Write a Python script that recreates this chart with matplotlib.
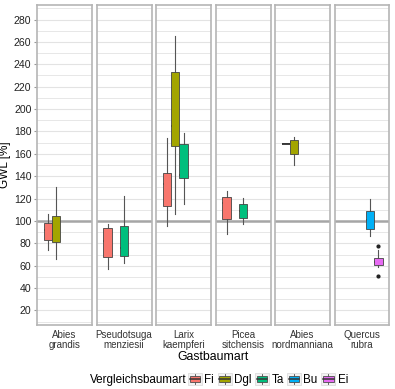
import matplotlib
matplotlib.use('Agg')
import matplotlib.pyplot as plt
from matplotlib.patches import Rectangle, Patch
from matplotlib.lines import Line2D
from matplotlib.legend_handler import HandlerBase

plt.rcParams['font.family'] = ['Liberation Sans', 'DejaVu Sans']

# --- Data ---
species = ['Abies\ngrandis', 'Pseudotsuga\nmenziesii', 'Larix\nkaempferi',
           'Picea\nsitchensis', 'Abies\nnordmanniana', 'Quercus\nrubra']
groups = ['Fi', 'Dgl', 'Ta', 'Bu', 'Ei']
colors = ['#F8766D', '#A3A500', '#00BF7D', '#00B0F6', '#E76BF3']

# whislo, q1, median, q3, whishi per species and group
abies_grandis = {'Fi': [73.6, 83.2, 91.9, 98.2, 106.5],
                 'Dgl': [66.2, 80.8, 87.1, 104.1, 130.5]}
pseudotsuga = {'Fi': [56.9, 67.7, 82.3, 93.7, 97.6],
               'Ta': [62.8, 68.9, 75.8, 95.8, 122.7]}
larix = {'Fi': [95.8, 113.1, 132.9, 143.1, 174.5],
         'Dgl': [105.9, 166.7, 184.6, 233.1, 265.7],
         'Ta': [114.9, 138.0, 141.3, 169.1, 179.0]}
picea = {'Fi': [88.6, 101.4, 116.2, 121.5, 126.6],
         'Ta': [97.3, 102.7, 109.2, 115.3, 120.6]}
abies_nord = {'Fi': [168.5, 168.5, 168.5, 168.5, 168.5],
              'Dgl': [149.9, 159.5, 170.3, 172.1, 175.4]}
quercus = {'Bu': [86.2, 92.8, 100.5, 109.2, 120.0],
           'Ei': [59.0, 60.8, 63.7, 66.8, 74.2]}
panels = [abies_grandis, pseudotsuga, larix, picea, abies_nord, quercus]
outliers = {(5, 'Ei'): [77.2, 51.2]}

# --- Layout ---
W, H = 395, 389
fig = plt.figure(figsize=(W / 100, H / 100), dpi=100)
lefts = [37, 96.5, 156, 215.5, 275, 334.5]
pw = 55
bottom, top = 325, 5

dodge = 0.18
grid_c = '#E3E3E3'
for i, (name, data) in enumerate(zip(species, panels)):
    ax = fig.add_axes([lefts[i] / W, 1 - bottom / H, pw / W, (bottom - top) / H])
    ax.set_xlim(0.4, 1.6)
    ax.set_ylim(7, 293)
    for v in range(10, 291, 10):
        ax.axhline(v, color=grid_c, lw=0.8 if v % 20 == 0 else 0.6, zorder=0)
    ax.axhline(100, color='#A6A6A6', lw=1.8, zorder=1)

    stats, pos, cols = [], [], []
    for j, g in enumerate(groups):
        if g not in data:
            continue
        lo, q1, med, q3, hi = data[g]
        stats.append(dict(whislo=lo, q1=q1, med=med, q3=q3, whishi=hi,
                          fliers=outliers.get((i, g), [])))
        pos.append(1 + (j - 2) * dodge)
        cols.append(colors[j])
    bp = ax.bxp(stats, positions=pos, widths=dodge, patch_artist=True,
                showcaps=False, manage_ticks=False,
                boxprops=dict(edgecolor='#444444', linewidth=0.6),
                whiskerprops=dict(color='#555555', linewidth=0.8),
                medianprops=dict(color='#333333', linewidth=1.4),
                flierprops=dict(marker='o', markersize=2, markerfacecolor='#222222',
                                markeredgecolor='#222222'))
    for b, c in zip(bp['boxes'], cols):
        b.set_facecolor(c)
        b.set_zorder(3)

    for s in ax.spines.values():
        s.set_color('#B5B5B5')
        s.set_linewidth(1.2)
    ax.set_xticks([1])
    ax.set_xticklabels([name], fontsize=7.0, color='#333333', linespacing=1.0)
    ax.tick_params(axis='x', length=0, pad=3.5)
    if i == 0:
        ax.set_yticks(range(20, 281, 20))
        ax.tick_params(axis='y', labelsize=7.6, length=2.5, color='#999999',
                       labelcolor='#222222', pad=1.5)
        ax.set_ylabel('GWL [%]', fontsize=8.5, labelpad=2)
    else:
        ax.set_yticks([])

fig.text((37 + 390) / 2 / W, 1 - 357 / H, 'Gastbaumart', ha='center', va='center',
         fontsize=8.8)


class BoxKey(HandlerBase):
    def create_artists(self, legend, orig, xd, yd, width, height, fontsize, trans):
        x0, y0 = -xd, -yd
        bg = Rectangle((x0, y0 - 1), width, height + 2, facecolor='#F2F2F2',
                       edgecolor='#DDDDDD', lw=0.6, transform=trans)
        cx = x0 + width / 2
        wl = Line2D([cx, cx], [y0, y0 + height], color='#4D4D4D', lw=0.6,
                    transform=trans)
        box = Rectangle((x0 + width * 0.12, y0 + height * 0.18), width * 0.76,
                        height * 0.64, facecolor=orig.get_facecolor(),
                        edgecolor='#4D4D4D', lw=0.6, transform=trans)
        med = Line2D([x0 + width * 0.12, x0 + width * 0.88],
                     [y0 + height / 2] * 2, color='#333333', lw=1.1, transform=trans)
        return [bg, wl, box, med]


handles = [Patch(facecolor=c) for c in colors]
fig.text(187 / W, 1 - 380 / H, 'Vergleichsbaumart', ha='right', va='center',
         fontsize=8.4)
fig.legend(handles, groups, loc='center left', bbox_to_anchor=(188 / W, 1 - 380 / H),
           ncol=5, frameon=False, fontsize=8.4, handler_map={Patch: BoxKey()},
           handlelength=1.2, handleheight=0.9, handletextpad=0.2,
           columnspacing=0.3, borderpad=0, borderaxespad=0)

fig.savefig('out.png', dpi=100, facecolor='white')
